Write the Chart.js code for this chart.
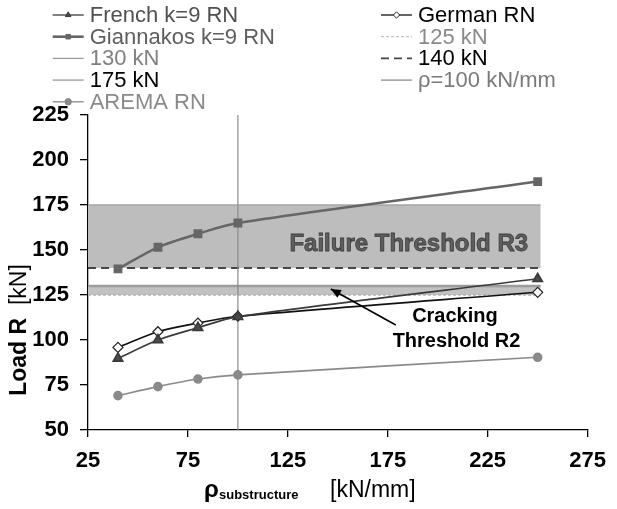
<!DOCTYPE html>
<html>
<head>
<meta charset="utf-8">
<script src="https://cdn.jsdelivr.net/npm/chart.js@4.4.1/dist/chart.umd.min.js"></script>
<style>
  html, body { margin: 0; padding: 0; background: #fff; }
  #wrap { width: 617px; height: 509px; position: relative; }
</style>
</head>
<body>
<div id="wrap"><canvas id="c"></canvas></div>
<script>
// Substructure stiffness values (kN/mm) at which the load was computed
const stiffness = [40, 60, 80, 100, 250];

// Load R (kN) for each method
const frenchRN    = [89.8, 100, 106.8, 113, 134];
const germanRN    = [95.9, 104.6, 109.4, 113.2, 126.5];
const giannakosRN = [139.5, 151.5, 159, 165, 188];
const aremaRN     = [69.1, 74.1, 78.3, 80.6, 90.4];

// Horizontal threshold levels (kN) and the stiffness span they cover
const thresholdSpan = [25, 251.5];
const level125 = [125, 125];
const level130 = [130, 130];
const level140 = [140, 140];
const level175 = [175, 175];

// Reference stiffness marker
const refStiffnessX = [100, 100];
const refStiffnessY = [50, 225];

// Axis ticks
const xTicks = [25, 75, 125, 175, 225, 275];
const yTicks = [50, 75, 100, 125, 150, 175, 200, 225];

const FONT = '"Liberation Sans", Arial, Helvetica, sans-serif';

const pts = (xs, ys) => xs.map((x, i) => ({ x, y: ys[i] }));

const datasets = [
  { label: 'French k=9 RN', data: pts(stiffness, frenchRN), borderColor: '#3a3a3a', borderWidth: 1.6,
    pointStyle: 'triangle', pointRadius: 5.5, pointBackgroundColor: '#4a4a4a', pointBorderColor: '#3a3a3a',
    tension: 0.3, order: 1, legendText: '#505050', legendWidth: 1.3 },
  { label: 'German RN', data: pts(stiffness, germanRN), borderColor: '#111', borderWidth: 1.6,
    pointStyle: 'rectRot', pointRadius: 5, pointBackgroundColor: '#fff', pointBorderColor: '#222', pointBorderWidth: 1.2,
    tension: 0.3, order: 1, legendText: '#000', legendWidth: 1.3 },
  { label: 'Giannakos k=9 RN', data: pts(stiffness, giannakosRN), borderColor: '#666', borderWidth: 2.5,
    pointStyle: 'rect', pointRadius: 4.5, pointBackgroundColor: '#666', pointBorderColor: '#666',
    tension: 0.3, order: 1, legendText: '#5e5e5e', legendWidth: 2.6 },
  { label: '125 kN', data: pts(thresholdSpan, level125), borderColor: '#b4b4b4', borderWidth: 1.3,
    borderDash: [3, 2], pointRadius: 0, order: 3, legendText: '#8a8a8a', legendWidth: 1 },
  { label: '130 kN', data: pts(thresholdSpan, level130), borderColor: '#9c9c9c', borderWidth: 2.5,
    pointRadius: 0, fill: 3, backgroundColor: '#c2c2c2', order: 3, legendText: '#808080', legendWidth: 1.3 },
  { label: '140 kN', data: pts(thresholdSpan, level140), borderColor: '#474747', borderWidth: 2,
    borderDash: [8, 5], pointRadius: 0, order: 3, legendText: '#000', legendWidth: 1.8 },
  { label: '175 kN', data: pts(thresholdSpan, level175), borderColor: '#a6a6a6', borderWidth: 1.5,
    pointRadius: 0, fill: 5, backgroundColor: '#bdbdbd', order: 3, legendText: '#000', legendWidth: 1.5 },
  { label: 'ρ=100 kN/mm', data: pts(refStiffnessX, refStiffnessY), borderColor: '#8c8c8c', borderWidth: 1.2,
    pointRadius: 0, order: 2, legendText: '#7a7a7a', legendWidth: 1.3 },
  { label: 'AREMA RN', data: pts(stiffness, aremaRN), borderColor: '#8a8a8a', borderWidth: 1.6,
    pointStyle: 'circle', pointRadius: 4, pointBackgroundColor: '#8a8a8a', pointBorderColor: '#8a8a8a',
    tension: 0.3, order: 1, legendText: '#8a8a8a', legendWidth: 1.3 }
];

// Two-column legend drawn across the top of the canvas
const legendPlugin = {
  id: 'twoColLegend',
  afterDraw(chart) {
    const ctx = chart.ctx;
    const colX = [52.7, 381];
    const rowY0 = 15, rowStep = 21.7, sampleLen = 31;
    ctx.save();
    chart.data.datasets.forEach((ds, i) => {
      const x0 = colX[i % 2];
      const y = rowY0 + Math.floor(i / 2) * rowStep;
      ctx.strokeStyle = ds.borderColor;
      ctx.lineWidth = ds.legendWidth;
      ctx.setLineDash(ds.borderDash || []);
      ctx.beginPath();
      ctx.moveTo(x0, y);
      ctx.lineTo(x0 + sampleLen, y);
      ctx.stroke();
      ctx.setLineDash([]);
      if (ds.pointRadius) {
        ctx.fillStyle = ds.pointBackgroundColor;
        ctx.strokeStyle = ds.pointBorderColor;
        ctx.lineWidth = 1;
        Chart.helpers.drawPoint(ctx, { pointStyle: ds.pointStyle, radius: 3.2, rotation: 0, borderWidth: 1 },
          x0 + sampleLen / 2, y);
      }
      ctx.fillStyle = ds.legendText;
      ctx.font = '22px ' + FONT;
      ctx.textBaseline = 'middle';
      ctx.textAlign = 'left';
      ctx.fillText(ds.label, x0 + sampleLen + 6, y + 1);
    });
    ctx.restore();
  }
};

// Axis titles with mixed bold / regular runs
const axisTitlePlugin = {
  id: 'axisTitles',
  afterDraw(chart) {
    const ctx = chart.ctx;
    ctx.save();
    ctx.fillStyle = '#000';
    ctx.textBaseline = 'alphabetic';
    ctx.textAlign = 'left';

    // Vertical title
    const boldPart = 'Load R', normPart = '  [kN]';
    ctx.font = 'bold 23px ' + FONT;
    const wB = ctx.measureText(boldPart).width;
    ctx.font = '23px ' + FONT;
    const wN = ctx.measureText(normPart).width;
    ctx.translate(26, 330);
    ctx.rotate(-Math.PI / 2);
    const start = -(wB + wN) / 2;
    ctx.font = 'bold 23px ' + FONT;
    ctx.fillText(boldPart, start, 0);
    ctx.font = '23px ' + FONT;
    ctx.fillText(normPart, start + wB, 0);
    ctx.setTransform(1, 0, 0, 1, 0, 0);

    // Horizontal title
    const base = 497;
    ctx.font = 'bold 24px ' + FONT;
    ctx.fillText('ρ', 204, base);
    ctx.font = 'bold 13px ' + FONT;
    ctx.fillText('substructure', 219, base + 2);
    ctx.font = '23px ' + FONT;
    ctx.fillText('[kN/mm]', 330, base);
    ctx.restore();
  }
};

// Threshold labels and pointer arrow, anchored in data coordinates
const notesPlugin = {
  id: 'notes',
  afterDatasetsDraw(chart) {
    const { ctx, scales: { x, y } } = chart;
    ctx.save();
    ctx.textAlign = 'center';
    ctx.textBaseline = 'middle';

    ctx.font = 'bold 24px ' + FONT;
    ctx.lineWidth = 0.8;
    ctx.strokeStyle = '#3c3c3c';
    ctx.fillStyle = '#5e5e5e';
    const fx = x.getPixelForValue(185.5), fy = y.getPixelForValue(153.3);
    ctx.fillText('Failure Threshold R3', fx, fy);
    ctx.strokeText('Failure Threshold R3', fx, fy);

    ctx.fillStyle = '#000';
    ctx.font = 'bold 20px ' + FONT;
    ctx.fillText('Cracking', x.getPixelForValue(208.6), y.getPixelForValue(113.3));
    ctx.fillText('Threshold R2', x.getPixelForValue(209.4), y.getPixelForValue(98.9));

    // arrow from the label toward the cracking band
    const tx = x.getPixelForValue(179), ty = y.getPixelForValue(108.3);
    const hx = x.getPixelForValue(146.5), hy = y.getPixelForValue(128.3);
    ctx.strokeStyle = '#000';
    ctx.lineWidth = 1.6;
    ctx.beginPath();
    ctx.moveTo(tx, ty);
    ctx.lineTo(hx, hy);
    ctx.stroke();
    const ang = Math.atan2(hy - ty, hx - tx);
    const L = 10, W = 4.5;
    ctx.fillStyle = '#000';
    ctx.beginPath();
    ctx.moveTo(hx, hy);
    ctx.lineTo(hx - L * Math.cos(ang) + W * Math.sin(ang), hy - L * Math.sin(ang) - W * Math.cos(ang));
    ctx.lineTo(hx - L * Math.cos(ang) - W * Math.sin(ang), hy - L * Math.sin(ang) + W * Math.cos(ang));
    ctx.closePath();
    ctx.fill();
    ctx.restore();
  }
};

new Chart(document.getElementById('c'), {
  type: 'line',
  data: { datasets },
  options: {
    responsive: true,
    maintainAspectRatio: false,
    devicePixelRatio: 1,
    animation: false,
    layout: { padding: { top: 115, right: 22, left: 0, bottom: 0 } },
    plugins: { legend: { display: false }, tooltip: { enabled: false } },
    elements: { line: { fill: false } },
    scales: {
      x: {
        type: 'linear', min: 25, max: 275,
        border: { display: true, color: '#000', width: 1.3 },
        grid: { drawOnChartArea: false, drawTicks: true, tickLength: 7, color: '#000', lineWidth: 1.3 },
        ticks: { color: '#000', padding: 11, maxRotation: 0, font: { family: FONT, size: 22, weight: 'bold' } },
        afterBuildTicks: s => { s.ticks = xTicks.map(v => ({ value: v })); },
        afterFit: s => { s.height = 79; }
      },
      y: {
        type: 'linear', min: 50, max: 225,
        border: { display: true, color: '#000', width: 1.3 },
        grid: { drawOnChartArea: false, drawTicks: true, tickLength: 8, color: '#000', lineWidth: 1.3 },
        ticks: { color: '#000', padding: 11, font: { family: FONT, size: 22, weight: 'bold' } },
        afterBuildTicks: s => { s.ticks = yTicks.map(v => ({ value: v })); },
        afterFit: s => { s.width = 88; }
      }
    }
  },
  plugins: [legendPlugin, axisTitlePlugin, notesPlugin]
});
</script>
</body>
</html>
